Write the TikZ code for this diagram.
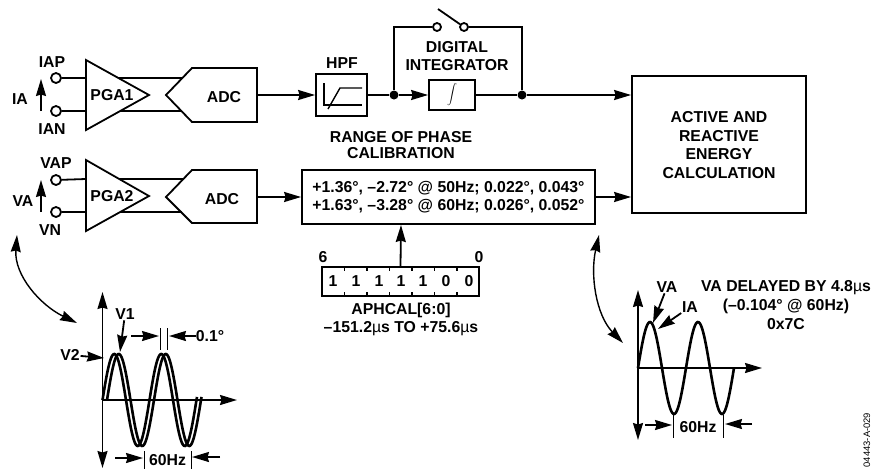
\documentclass[tikz,border=0pt]{standalone}
\usepackage{fontspec}
\setmainfont{Liberation Sans}
\usepackage{tikz}
\usetikzlibrary{arrows.meta}
\newcommand{\musym}{{\mdseries µ}}
\tikzset{
    blocknode/.style={draw, rectangle, inner sep=0pt},
    termnode/.style={draw, circle, fill=white, inner sep=0pt, minimum size=10pt},
    dotnode/.style={circle, fill=black, inner sep=0pt, minimum size=9pt},
    textnode/.style={align=center, inner sep=0pt},
    wave/.style={line width=2.6pt, samples=120, smooth}
}

\begin{document}
\begin{tikzpicture}[x=1pt, y=-1pt, line width=1.8pt, >={Stealth[length=17pt, width=10pt, inset=1.5pt]},
    every node/.style={font=\fontsize{15.8}{18.7}\selectfont\bfseries}]
    \useasboundingbox (0,0) rectangle (871,469);

    % Canal de corriente: terminales y amplificador
    \node[termnode] (iap) at (56,78) {};
    \node[termnode] (ian) at (56,111) {};
    \node[textnode] (iaplabel) at (52,62) {IAP};
    \node[textnode] (ianlabel) at (52,129) {IAN};
    \node[textnode] (ialabel) at (20,99) {IA};
    \coordinate (iabase) at (41,111);
    \coordinate (iatip) at (41,79);
    \draw[->] (iabase) -- (iatip);
    \coordinate (pga1a) at (86,60);
    \coordinate (pga1b) at (86,130);
    \coordinate (pga1c) at (149,95);
    \draw (pga1a) -- (pga1b) -- (pga1c) -- cycle;
    \node[textnode] (pga1) at (112,95) {PGA1};
    \coordinate (pga1p) at (86,78);
    \coordinate (pga1n) at (86,111);
    \draw (iap) -- (pga1p);
    \draw (ian) -- (pga1n);

    % Primer ADC
    \coordinate (adc1tip) at (166,95);
    \coordinate (adc1nw) at (192,68);
    \coordinate (adc1ne) at (257,68);
    \coordinate (adc1se) at (257,122);
    \coordinate (adc1sw) at (192,122);
    \draw (adc1tip) -- (adc1nw) -- (adc1ne) -- (adc1se) -- (adc1sw) -- cycle;
    \node[textnode] (adc1) at (224,97) {ADC};
    \coordinate (adc1out) at (257,95);
    \coordinate (link1pa) at (119,78);
    \coordinate (link1pb) at (183,78);
    \coordinate (link1na) at (120,111);
    \coordinate (link1nb) at (182,111);
    \draw (link1pa) -- (link1pb);
    \draw (link1na) -- (link1nb);

    % Canal de tension
    \node[termnode] (vap) at (56,180) {};
    \node[termnode] (vn) at (56,212) {};
    \node[textnode] (vaplabel) at (56,163) {VAP};
    \node[textnode] (vnlabel) at (50,230) {VN};
    \node[textnode] (valabel) at (23,201) {VA};
    \coordinate (vabase) at (41,212);
    \coordinate (vatip) at (41,180);
    \draw[->] (vabase) -- (vatip);
    \coordinate (pga2a) at (86,160);
    \coordinate (pga2b) at (86,231);
    \coordinate (pga2c) at (149,196);
    \draw (pga2a) -- (pga2b) -- (pga2c) -- cycle;
    \node[textnode] (pga2) at (112,196) {PGA2};
    \coordinate (pga2p) at (86,179);
    \coordinate (pga2n) at (86,212);
    \draw (vap) -- (pga2p);
    \draw (vn) -- (pga2n);

    % Segundo ADC
    \coordinate (adc2tip) at (166,197);
    \coordinate (adc2nw) at (192,170);
    \coordinate (adc2ne) at (257,170);
    \coordinate (adc2se) at (257,223);
    \coordinate (adc2sw) at (192,223);
    \draw (adc2tip) -- (adc2nw) -- (adc2ne) -- (adc2se) -- (adc2sw) -- cycle;
    \node[textnode] (adc2) at (222,199) {ADC};
    \coordinate (adc2out) at (257,197);
    \coordinate (link2pa) at (119,179);
    \coordinate (link2pb) at (183,179);
    \coordinate (link2na) at (120,212);
    \coordinate (link2nb) at (182,212);
    \draw (link2pa) -- (link2pb);
    \draw (link2na) -- (link2nb);

    % Filtro paso alto
    \node[blocknode, minimum width=51pt, minimum height=42pt] (hpf) at (341.5,95) {};
    \node[textnode] (hpflabel) at (342,63) {HPF};
    \draw[line width=1.4pt] (324,83) -- (324,105) -- (362,105);
    \draw[line width=1.4pt] (328,109) -- (340,88) -- (362,88);
    \draw[->] (adc1out) -- (hpf);

    % Integrador digital con su interruptor
    \node[dotnode] (dotin) at (394,95) {};
    \node[dotnode] (dotout) at (522,95) {};
    \node[blocknode, minimum width=46pt, minimum height=30pt, font=\fontsize{12}{13}\selectfont] (integ) at (452,95) {$\displaystyle\int$};
    \node[textnode] (integlabel) at (457,56) {DIGITAL\\INTEGRATOR};
    \node[termnode, minimum size=8pt] (swl) at (437,27) {};
    \node[termnode, minimum size=8pt] (swr) at (464,27) {};
    \coordinate (swtop) at (438,9);
    \draw (hpf) -- (dotin);
    \draw[->] (dotin) -- (integ);
    \draw (integ) -- (dotout);
    \draw (dotin) |- (swl);
    \draw (swr) -| (dotout);
    \draw (swtop) -- (swr);

    % Bloque de energia
    \node[blocknode, minimum width=174pt, minimum height=137pt] (active) at (719,144.5) {};
    \node[textnode] (activelabel) at (719,145) {ACTIVE AND\\REACTIVE\\ENERGY\\CALCULATION};
    \draw[->] (dotout) -- (dotout -| active.west);

    % Calibracion de fase
    \node[textnode, font=\fontsize{15.8}{16}\selectfont\bfseries] (rangelabel) at (401,145) {RANGE OF PHASE\\CALIBRATION};
    \node[blocknode, minimum width=293pt, minimum height=54pt, align=center, font=\fontsize{15.8}{18}\selectfont\bfseries] (phase) at (448.5,197)
        {+1.36°, –2.72° @ 50Hz; 0.022°, 0.043°\\+1.63°, –3.28° @ 60Hz; 0.026°, 0.052°};
    \draw[->] (adc2out) -- (phase);
    \draw[->] (phase) -- (phase -| active.west);

    % Registro APHCAL
    \node[blocknode, minimum width=157pt, minimum height=29pt] (aphcal) at (400.5,281.5) {};
    \node[textnode] (msb) at (323,257) {6};
    \node[textnode] (lsb) at (479,257) {0};
    \node[textnode] (bita) at (333,281) {1};
    \node[textnode] (bitb) at (356,281) {1};
    \node[textnode] (bitc) at (379,281) {1};
    \node[textnode] (bitd) at (401,281) {1};
    \node[textnode] (bite) at (423,281) {1};
    \node[textnode] (bitf) at (446,281) {0};
    \node[textnode] (bitg) at (469,281) {0};
    \draw[line width=1.4pt] (344.5,267) -- +(0,4) (367,267) -- +(0,4) (389.5,267) -- +(0,4)
        (412,267) -- +(0,4) (434.5,267) -- +(0,4) (457,267) -- +(0,4);
    \draw[line width=1.4pt] (344.5,296) -- +(0,-4) (367,296) -- +(0,-4) (389.5,296) -- +(0,-4)
        (412,296) -- +(0,-4) (434.5,296) -- +(0,-4) (457,296) -- +(0,-4);
    \coordinate (phasein) at (401,225);
    \draw[->] (aphcal.north) -- (phasein);
    \node[textnode] (aphlabel) at (401,319.5) {APHCAL[6:0]\\–151.2\musym s TO +75.6\musym s};

    % Grafica izquierda
    \coordinate (curvela) at (17,235);
    \coordinate (curvelb) at (77,323);
    \draw[<->, line width=1.4pt] (curvela) .. controls (14,275) and (40,305) .. (curvelb);
    \coordinate (laxtop) at (102.5,292);
    \coordinate (laxbot) at (102.5,468);
    \coordinate (laxorg) at (102.5,400);
    \coordinate (laxend) at (237,400);
    \draw[<->] (laxbot) -- (laxtop);
    \draw[->] (laxorg) -- (laxend);
    \draw[wave] plot[domain=0:94.5] ({102.5+\x},{400-46*sin(\x/47*360)});
    \draw[wave] plot[domain=0:94.5] ({107+\x},{400-46*sin(\x/47*360)});
    \node[textnode] (vonelabel) at (125,314) {V1};
    \node[textnode] (vtwolabel) at (70,355) {V2};
    \coordinate (vonetip) at (120,352);
    \coordinate (vtwotip) at (104,358);
    \draw[->] (vonelabel) -- (vonetip);
    \draw[->] (vtwolabel) -- (vtwotip);
    \draw[line width=1pt] (160,328) -- (160,350);
    \draw[line width=1pt] (167.5,328) -- (167.5,350);
    \coordinate (lpha) at (131,336);
    \coordinate (lphb) at (159,336);
    \coordinate (lphc) at (196,336);
    \coordinate (lphd) at (169,336);
    \draw[->] (lpha) -- (lphb);
    \draw[->] (lphc) -- (lphd);
    \node[textnode] (degree) at (210,336) {0.1°};
    \draw[line width=1pt] (144,451) -- (144,469);
    \draw[line width=1pt] (191,451) -- (191,469);
    \coordinate (lfa) at (115,458);
    \coordinate (lfb) at (143,458);
    \coordinate (lfc) at (220,457);
    \coordinate (lfd) at (192,457);
    \draw[->] (lfa) -- (lfb);
    \draw[->] (lfc) -- (lfd);
    \node[textnode] (lfreq) at (167.5,460) {60Hz};

    % Grafica derecha
    \coordinate (curvera) at (599,235);
    \coordinate (curverb) at (623,343);
    \draw[<->, line width=1.4pt] (curvera) .. controls (590,275) and (596,315) .. (curverb);
    \coordinate (raxtop) at (638,290);
    \coordinate (raxbot) at (638,440);
    \coordinate (raxorg) at (638,368);
    \coordinate (raxend) at (762,368);
    \draw[<->] (raxbot) -- (raxtop);
    \draw[->] (raxorg) -- (raxend);
    \draw[wave] plot[domain=0:96] ({638+\x},{368-46*sin(\x/48*360)});
    \node[textnode] (valabelb) at (667,287) {VA};
    \node[textnode] (ialabelb) at (690,307) {IA};
    \coordinate (vabtip) at (653,323);
    \coordinate (iabtip) at (658,329);
    \draw[->] (valabelb) -- (vabtip);
    \draw[->] (ialabelb) -- (iabtip);
    \draw[line width=1pt] (673.5,415) -- (673.5,438);
    \draw[line width=1pt] (723,415) -- (723,438);
    \coordinate (rfa) at (645,425);
    \coordinate (rfb) at (672,425);
    \coordinate (rfc) at (752,424);
    \coordinate (rfd) at (725,424);
    \draw[->] (rfa) -- (rfb);
    \draw[->] (rfc) -- (rfd);
    \node[textnode] (rfreq) at (698,427) {60Hz};
    \node[textnode] (delay) at (786,305) {VA DELAYED BY 4.8\musym s\\(–0.104° @ 60Hz)\\0x7C};

    % Referencia de la figura
    \node[anchor=east, rotate=90, inner sep=0pt, font=\fontsize{9.4}{10}\selectfont] (figref) at (867,412) {04443-A-029};
\end{tikzpicture}
\end{document}
